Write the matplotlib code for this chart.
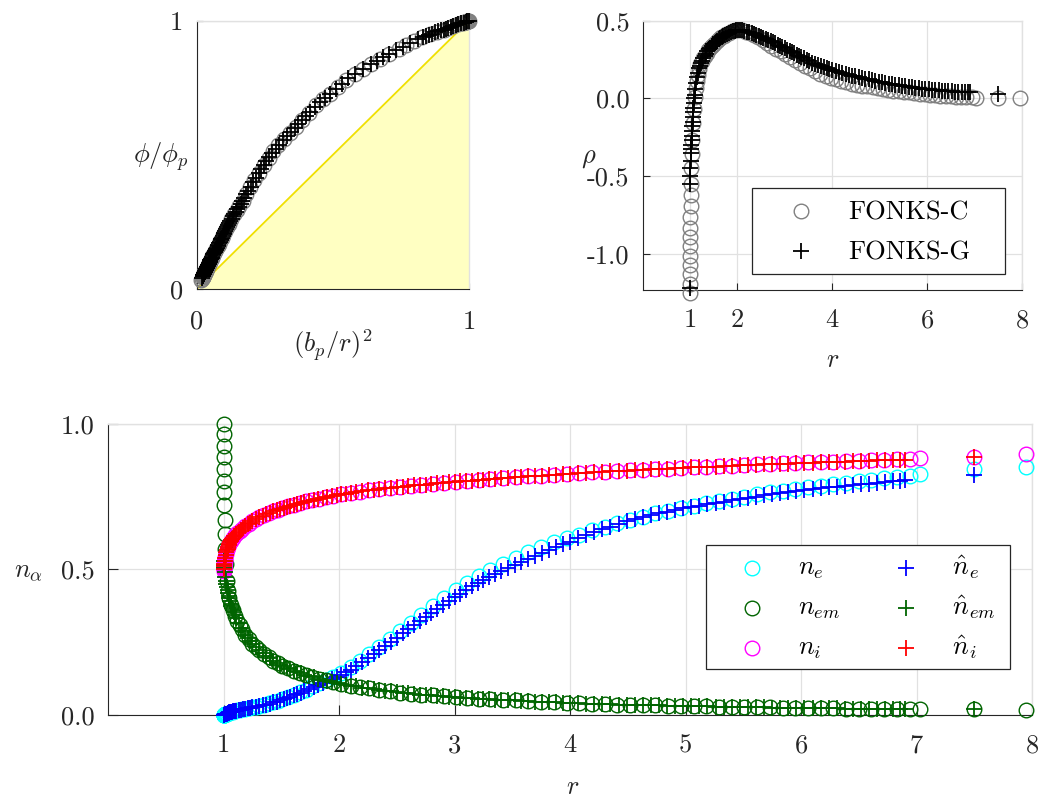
import matplotlib
matplotlib.use("Agg")
import matplotlib.pyplot as plt
from matplotlib.patches import Rectangle
import numpy as np

plt.rcParams["font.family"] = "serif"
plt.rcParams["font.serif"] = ["cmr10"]
plt.rcParams["mathtext.fontset"] = "cm"
plt.rcParams["axes.unicode_minus"] = False

# ---------------------------------------------------------------- data
b_p = 1.0

# FONKS-C (circles)
r_c = [1.000, 1.001, 1.002, 1.003, 1.004, 1.005, 1.006, 1.008, 1.010, 1.012, 1.015, 1.020,
       1.03, 1.04, 1.05, 1.065, 1.08, 1.10, 1.12, 1.14, 1.16, 1.19,
       1.22, 1.25, 1.28, 1.31, 1.35, 1.39, 1.43, 1.47, 1.51, 1.56,
       1.61, 1.66, 1.71, 1.77, 1.83, 1.89, 1.95,
       2.02, 2.10, 2.18, 2.26, 2.35, 2.44, 2.53, 2.62, 2.71, 2.81,
       2.91, 3.01, 3.11, 3.21, 3.31, 3.42, 3.53, 3.64, 3.75, 3.86,
       3.97, 4.08, 4.19, 4.30, 4.41, 4.52, 4.63, 4.74, 4.85, 4.96,
       5.07, 5.18, 5.29, 5.40, 5.51, 5.62, 5.73, 5.84, 5.95, 6.06,
       6.17, 6.28, 6.39, 6.50, 6.61, 6.72, 6.83, 6.94, 7.03, 7.50, 7.95]
phi_c = [1.000, 0.999, 0.999, 0.998, 0.998, 0.997, 0.996, 0.995, 0.994, 0.993, 0.991, 0.988,
         0.980, 0.974, 0.967, 0.958, 0.950, 0.940, 0.924, 0.909, 0.895, 0.876,
         0.857, 0.837, 0.819, 0.802, 0.779, 0.753, 0.728, 0.706, 0.684, 0.655,
         0.628, 0.604, 0.581, 0.557, 0.535, 0.512, 0.488,
         0.462, 0.432, 0.404, 0.379, 0.352, 0.329, 0.310, 0.293, 0.277, 0.259,
         0.243, 0.229, 0.215, 0.202, 0.190, 0.178, 0.168, 0.158, 0.149, 0.141,
         0.134, 0.127, 0.121, 0.115, 0.109, 0.104, 0.099, 0.095, 0.091, 0.087,
         0.083, 0.079, 0.076, 0.073, 0.070, 0.067, 0.065, 0.062, 0.060, 0.058,
         0.056, 0.054, 0.052, 0.050, 0.048, 0.047, 0.045, 0.044, 0.043, 0.038, 0.034]
rho_c = [-1.25, -1.19, -1.13, -1.07, -1.01, -0.95, -0.89, -0.83, -0.76, -0.69, -0.62, -0.55,
         -0.45, -0.36, -0.27, -0.16, -0.07, 0.01, 0.07, 0.115, 0.15, 0.19,
         0.22, 0.24, 0.258, 0.275, 0.293, 0.31, 0.326, 0.34, 0.353, 0.367,
         0.38, 0.392, 0.402, 0.413, 0.423, 0.431, 0.437,
         0.440, 0.437, 0.430, 0.421, 0.408, 0.393, 0.376, 0.358, 0.340, 0.321,
         0.302, 0.284, 0.266, 0.247, 0.229, 0.211, 0.193, 0.175, 0.160, 0.146,
         0.134, 0.123, 0.113, 0.104, 0.096, 0.089, 0.083, 0.077, 0.071, 0.066,
         0.061, 0.056, 0.051, 0.047, 0.043, 0.039, 0.035, 0.031, 0.027, 0.024,
         0.021, 0.018, 0.015, 0.013, 0.011, 0.009, 0.008, 0.007, 0.006, 0.002, 0.001]
ne_c = [0.000, 0.000, 0.000, 0.000, 0.001, 0.001, 0.001, 0.001, 0.002, 0.002, 0.003, 0.004,
        0.005, 0.006, 0.008, 0.010, 0.012, 0.014, 0.016, 0.018, 0.020, 0.022,
        0.024, 0.027, 0.029, 0.032, 0.036, 0.040, 0.044, 0.049, 0.055, 0.062,
        0.070, 0.078, 0.087, 0.098, 0.109, 0.121, 0.132,
        0.145, 0.165, 0.186, 0.208, 0.234, 0.260, 0.289, 0.316, 0.344, 0.374,
        0.403, 0.430, 0.454, 0.476, 0.497, 0.518, 0.538, 0.558, 0.576, 0.593,
        0.606, 0.619, 0.634, 0.647, 0.659, 0.670, 0.681, 0.692, 0.701, 0.710,
        0.719, 0.727, 0.735, 0.742, 0.749, 0.757, 0.764, 0.770, 0.776, 0.782,
        0.787, 0.792, 0.797, 0.802, 0.807, 0.812, 0.817, 0.822, 0.828, 0.843, 0.852]
nem_c = [1.000, 0.965, 0.925, 0.885, 0.845, 0.805, 0.765, 0.720, 0.670, 0.620, 0.570, 0.520,
         0.460, 0.425, 0.400, 0.378, 0.360, 0.340, 0.324, 0.308, 0.294, 0.276,
         0.260, 0.245, 0.234, 0.223, 0.210, 0.198, 0.187, 0.178, 0.169, 0.160,
         0.152, 0.145, 0.138, 0.131, 0.124, 0.119, 0.113,
         0.107, 0.101, 0.096, 0.091, 0.086, 0.081, 0.077, 0.073, 0.070, 0.067,
         0.064, 0.061, 0.059, 0.056, 0.054, 0.052, 0.050, 0.048, 0.046, 0.044,
         0.042, 0.040, 0.039, 0.037, 0.036, 0.035, 0.034, 0.033, 0.032, 0.031,
         0.030, 0.030, 0.029, 0.028, 0.027, 0.026, 0.026, 0.025, 0.024, 0.024,
         0.023, 0.023, 0.022, 0.022, 0.021, 0.021, 0.020, 0.020, 0.020, 0.019, 0.018]
ni_c = [0.495, 0.500, 0.503, 0.507, 0.510, 0.514, 0.518, 0.524, 0.530, 0.536, 0.543, 0.552,
        0.565, 0.577, 0.588, 0.599, 0.608, 0.617, 0.625, 0.633, 0.640, 0.649,
        0.657, 0.665, 0.672, 0.679, 0.686, 0.693, 0.699, 0.705, 0.710, 0.716,
        0.722, 0.728, 0.733, 0.738, 0.743, 0.748, 0.752,
        0.757, 0.762, 0.767, 0.771, 0.776, 0.780, 0.783, 0.787, 0.790, 0.794,
        0.797, 0.801, 0.804, 0.807, 0.810, 0.813, 0.816, 0.819, 0.822, 0.825,
        0.828, 0.830, 0.833, 0.835, 0.838, 0.840, 0.842, 0.844, 0.846, 0.848,
        0.850, 0.852, 0.854, 0.856, 0.858, 0.860, 0.862, 0.864, 0.866, 0.867,
        0.869, 0.870, 0.872, 0.873, 0.875, 0.876, 0.878, 0.879, 0.881, 0.887, 0.895]

# FONKS-G (crosses)
r_g = [1.000, 1.003, 1.006, 1.010, 1.015, 1.020, 1.025, 1.030, 1.035, 1.040,
       1.045, 1.050, 1.056, 1.062, 1.068, 1.075, 1.082, 1.090, 1.098,
       1.11, 1.13, 1.15, 1.17, 1.19, 1.21, 1.23, 1.25, 1.28, 1.31,
       1.34, 1.37, 1.40, 1.43, 1.46, 1.49, 1.52, 1.55, 1.58, 1.61,
       1.64, 1.67, 1.70, 1.74, 1.78, 1.82, 1.86, 1.90, 1.94, 1.98,
       2.02, 2.06, 2.10, 2.15, 2.20, 2.25, 2.30, 2.35, 2.40, 2.45,
       2.50, 2.55, 2.60, 2.65, 2.70, 2.75, 2.80, 2.85, 2.90, 2.95,
       3.00, 3.05, 3.10, 3.15, 3.20, 3.25, 3.30, 3.35, 3.40, 3.46,
       3.52, 3.58, 3.64, 3.70, 3.76, 3.82, 3.88, 3.94, 4.00,
       4.07, 4.14, 4.21, 4.28, 4.35, 4.42, 4.49, 4.56, 4.63, 4.70,
       4.77, 4.84, 4.91, 4.98, 5.05, 5.12, 5.19, 5.26, 5.33, 5.40,
       5.47, 5.54, 5.61, 5.68, 5.75, 5.82, 5.89, 5.96, 6.03, 6.10,
       6.17, 6.24, 6.31, 6.38, 6.45, 6.52, 6.59, 6.66, 6.73, 6.80,
       6.86, 6.90, 7.50]
phi_g = [1.000, 0.998, 0.996, 0.993, 0.990, 0.987, 0.983, 0.980, 0.977, 0.974,
         0.970, 0.967, 0.964, 0.960, 0.956, 0.952, 0.948, 0.943, 0.938,
         0.931, 0.917, 0.902, 0.889, 0.876, 0.863, 0.850, 0.837, 0.819, 0.802,
         0.785, 0.765, 0.746, 0.728, 0.711, 0.695, 0.678, 0.660, 0.643, 0.628,
         0.613, 0.599, 0.585, 0.568, 0.553, 0.538, 0.523, 0.507, 0.492, 0.477,
         0.462, 0.447, 0.432, 0.414, 0.397, 0.381, 0.366, 0.352, 0.339, 0.327,
         0.316, 0.306, 0.296, 0.287, 0.279, 0.270, 0.261, 0.253, 0.245, 0.238,
         0.230, 0.223, 0.216, 0.209, 0.203, 0.197, 0.191, 0.185, 0.180, 0.174,
         0.169, 0.163, 0.158, 0.153, 0.149, 0.144, 0.140, 0.136, 0.132,
         0.128, 0.124, 0.120, 0.116, 0.112, 0.109, 0.106, 0.103, 0.100, 0.097,
         0.094, 0.092, 0.089, 0.087, 0.085, 0.082, 0.080, 0.078, 0.076, 0.074,
         0.072, 0.071, 0.069, 0.067, 0.066, 0.064, 0.063, 0.061, 0.060, 0.059,
         0.057, 0.056, 0.055, 0.054, 0.053, 0.052, 0.051, 0.050, 0.049, 0.048,
         0.047, 0.047, 0.041]
rho_g = [-1.22, -0.55, -0.50, -0.45, -0.40, -0.35, -0.325, -0.30, -0.27, -0.24,
         -0.21, -0.18, -0.15, -0.12, -0.09, -0.06, -0.03, 0.00, 0.025,
         0.06, 0.10, 0.14, 0.165, 0.195, 0.21, 0.227, 0.24, 0.258, 0.275,
         0.289, 0.302, 0.315, 0.326, 0.337, 0.347, 0.356, 0.364, 0.372, 0.380,
         0.387, 0.394, 0.400, 0.408, 0.415, 0.421, 0.427, 0.432, 0.436, 0.439,
         0.440, 0.440, 0.438, 0.435, 0.430, 0.425, 0.420, 0.415, 0.410, 0.404,
         0.397, 0.391, 0.384, 0.377, 0.369, 0.362, 0.354, 0.346, 0.338, 0.330,
         0.322, 0.314, 0.306, 0.298, 0.290, 0.282, 0.274, 0.266, 0.258, 0.249,
         0.240, 0.231, 0.223, 0.216, 0.209, 0.202, 0.197, 0.191, 0.186,
         0.179, 0.172, 0.165, 0.159, 0.153, 0.147, 0.142, 0.137, 0.132, 0.127,
         0.123, 0.118, 0.113, 0.108, 0.104, 0.100, 0.096, 0.092, 0.088, 0.085,
         0.082, 0.079, 0.076, 0.073, 0.070, 0.067, 0.064, 0.062, 0.059, 0.057,
         0.055, 0.053, 0.051, 0.049, 0.048, 0.046, 0.044, 0.043, 0.042, 0.041,
         0.040, 0.039, 0.028]
ne_g = [0.000, 0.001, 0.001, 0.002, 0.003, 0.004, 0.004, 0.005, 0.006, 0.007,
        0.008, 0.009, 0.010, 0.010, 0.011, 0.012, 0.013, 0.013, 0.014,
        0.015, 0.017, 0.018, 0.020, 0.021, 0.023, 0.024, 0.026, 0.028, 0.031,
        0.034, 0.036, 0.039, 0.043, 0.046, 0.050, 0.054, 0.058, 0.062, 0.067,
        0.072, 0.077, 0.082, 0.089, 0.096, 0.102, 0.109, 0.116, 0.123, 0.130,
        0.137, 0.146, 0.155, 0.168, 0.181, 0.195, 0.209, 0.223, 0.237, 0.251,
        0.265, 0.280, 0.294, 0.308, 0.322, 0.336, 0.350, 0.364, 0.378, 0.391,
        0.404, 0.417, 0.429, 0.442, 0.454, 0.464, 0.474, 0.484, 0.494, 0.505,
        0.515, 0.526, 0.536, 0.547, 0.557, 0.567, 0.576, 0.586, 0.595,
        0.606, 0.618, 0.629, 0.638, 0.647, 0.656, 0.665, 0.673, 0.680, 0.686,
        0.692, 0.698, 0.704, 0.709, 0.714, 0.719, 0.723, 0.728, 0.732, 0.737,
        0.741, 0.746, 0.750, 0.754, 0.758, 0.762, 0.766, 0.769, 0.772, 0.775,
        0.779, 0.781, 0.784, 0.786, 0.789, 0.792, 0.794, 0.797, 0.799, 0.802,
        0.805, 0.807, 0.824]
nem_g = [0.530, 0.515, 0.505, 0.490, 0.475, 0.460, 0.450, 0.440, 0.430, 0.420,
         0.410, 0.400, 0.391, 0.382, 0.375, 0.367, 0.360, 0.352, 0.344,
         0.332, 0.316, 0.300, 0.288, 0.276, 0.265, 0.255, 0.245, 0.234, 0.223,
         0.213, 0.204, 0.195, 0.187, 0.180, 0.173, 0.167, 0.162, 0.157, 0.152,
         0.147, 0.143, 0.139, 0.134, 0.129, 0.125, 0.121, 0.117, 0.114, 0.110,
         0.107, 0.104, 0.101, 0.098, 0.094, 0.091, 0.088, 0.086, 0.083, 0.081,
         0.078, 0.076, 0.074, 0.072, 0.070, 0.069, 0.067, 0.065, 0.064, 0.062,
         0.061, 0.060, 0.059, 0.058, 0.056, 0.055, 0.054, 0.053, 0.052, 0.051,
         0.050, 0.048, 0.047, 0.046, 0.045, 0.044, 0.043, 0.042, 0.041,
         0.040, 0.039, 0.038, 0.037, 0.037, 0.036, 0.035, 0.034, 0.034, 0.033,
         0.033, 0.032, 0.032, 0.031, 0.031, 0.030, 0.030, 0.029, 0.028, 0.028,
         0.027, 0.027, 0.026, 0.026, 0.025, 0.025, 0.025, 0.024, 0.024, 0.024,
         0.023, 0.023, 0.023, 0.022, 0.022, 0.022, 0.021, 0.021, 0.021, 0.020,
         0.020, 0.020, 0.019]
ni_g = [0.500, 0.512, 0.520, 0.530, 0.540, 0.550, 0.558, 0.565, 0.571, 0.577,
        0.583, 0.588, 0.593, 0.597, 0.601, 0.605, 0.609, 0.613, 0.616,
        0.621, 0.629, 0.636, 0.643, 0.649, 0.655, 0.660, 0.665, 0.672, 0.679,
        0.684, 0.690, 0.695, 0.699, 0.703, 0.708, 0.711, 0.715, 0.719, 0.722,
        0.726, 0.729, 0.732, 0.736, 0.739, 0.743, 0.746, 0.749, 0.752, 0.755,
        0.757, 0.760, 0.762, 0.765, 0.768, 0.771, 0.773, 0.776, 0.778, 0.780,
        0.782, 0.784, 0.786, 0.788, 0.790, 0.791, 0.793, 0.795, 0.797, 0.799,
        0.801, 0.802, 0.804, 0.805, 0.806, 0.808, 0.809, 0.811, 0.812, 0.814,
        0.816, 0.817, 0.819, 0.820, 0.822, 0.823, 0.825, 0.826, 0.828,
        0.830, 0.831, 0.833, 0.834, 0.836, 0.837, 0.839, 0.840, 0.842, 0.843,
        0.844, 0.846, 0.847, 0.849, 0.850, 0.851, 0.852, 0.853, 0.854, 0.855,
        0.857, 0.858, 0.859, 0.860, 0.861, 0.862, 0.863, 0.864, 0.865, 0.866,
        0.867, 0.868, 0.869, 0.870, 0.871, 0.872, 0.873, 0.874, 0.875, 0.876,
        0.877, 0.877, 0.887]

# reference diagonal phi/phi_p = (b_p/r)^2
diag = [0.0, 1.0]

# ticks
ticks_tl = [0, 1]
ticklabels_tl = ["0", "1"]
xticks_tr = [1, 2, 4, 6, 8]
xticklabels_tr = ["1", "2", "4", "6", "8"]
yticks_tr = [-1.0, -0.5, 0.0, 0.5]
yticklabels_tr = ["-1.0", "-0.5", "0.0", "0.5"]
xticks_b = [1, 2, 3, 4, 5, 6, 7, 8]
xticklabels_b = ["1", "2", "3", "4", "5", "6", "7", "8"]
yticks_b = [0.0, 0.5, 1.0]
yticklabels_b = ["0.0", "0.5", "1.0"]

# ---------------------------------------------------------------- style
INK = "#262626"
GRID = "#e1e1e1"
FS = 19
W, H = 1050, 802

x_c = (b_p / np.asarray(r_c)) ** 2
x_g = (b_p / np.asarray(r_g)) ** 2


def px_box(left, top, right, bottom):
    return [left / W, 1 - bottom / H, (right - left) / W, (bottom - top) / H]


def style_axes(ax, tick_len, xpad, ypad):
    for s in ("left", "bottom"):
        ax.spines[s].set_color(INK)
        ax.spines[s].set_linewidth(0.8)
    for s in ("top", "right"):
        ax.spines[s].set_color(GRID)
        ax.spines[s].set_linewidth(1.0)
    ax.grid(True, color=GRID, lw=0.9)
    ax.set_axisbelow(True)
    ax.tick_params(direction="in", length=tick_len, width=0.8, color=INK,
                   labelcolor=INK, labelsize=FS, top=False, right=False)
    ax.tick_params(axis="x", pad=xpad)
    ax.tick_params(axis="y", pad=ypad)


circ = dict(ls="none", marker="o", mfc="none", ms=10.5, mew=1.0, clip_on=False)
cross = dict(ls="none", marker="+", ms=11.5, mew=1.3, clip_on=False)

fig = plt.figure(figsize=(W / 100, H / 100), dpi=100)

# ---------------------------------------------------------------- top left
ax1 = fig.add_axes(px_box(197, 20.7, 469, 288.7))
ax1.fill_between(diag, [0, 0], diag, color="#ffffc2", lw=0, zorder=1)
ax1.plot(diag, diag, color="#f0e000", lw=1.3, zorder=2)
ax1.plot(x_c, phi_c, color="#808080", zorder=3, **circ)
ax1.plot(x_g, phi_g, color="black", zorder=4, **cross)
ax1.set_xlim(0, 1)
ax1.set_ylim(0, 1)
ax1.set_xticks(ticks_tl, ticklabels_tl)
ax1.set_yticks(ticks_tl, ticklabels_tl)
style_axes(ax1, 4, 15.5, 10)
fig.text(161 / W, 1 - 157 / H, r"$\phi/\phi_p$", fontsize=FS, color=INK,
         ha="center", va="center")
fig.text(333 / W, 1 - 345 / H, r"$(b_p/r)^2$", fontsize=FS, color=INK,
         ha="center", va="center")

# ---------------------------------------------------------------- top right
ax2 = fig.add_axes(px_box(642.5, 20.7, 1022, 290))
ax2.plot(r_c, rho_c, color="#808080", zorder=3, **circ)
ax2.plot(r_g, rho_g, color="black", zorder=4, **cross)
ax2.set_xlim(0, 8)
ax2.set_ylim(-1.2315, 0.5)
ax2.set_xticks(xticks_tr, xticklabels_tr)
ax2.set_yticks(yticks_tr, yticklabels_tr)
style_axes(ax2, 5, 13.5, 9.5)
fig.text(589 / W, 1 - 158 / H, r"$\rho$", fontsize=FS, color=INK,
         ha="center", va="center")
fig.text(833 / W, 1 - 360 / H, r"$r$", fontsize=FS, color=INK,
         ha="center", va="center")

# legend box
ax2.add_patch(Rectangle((0.2877, 0.0594), 0.9552 - 0.2877, 0.3776 - 0.0594,
                        transform=ax2.transAxes, facecolor="white",
                        edgecolor=INK, lw=0.9, zorder=10, clip_on=False))
ax2.plot([0.4169], [0.2915], transform=ax2.transAxes, color="#808080",
         zorder=11, **circ)
ax2.plot([0.4169], [0.1448], transform=ax2.transAxes, color="black",
         zorder=11, **cross)
ax2.text(0.5423, 0.2600, "FONKS-C", transform=ax2.transAxes, fontsize=FS,
         color="black", ha="left", va="baseline", zorder=12)
ax2.text(0.5423, 0.1133, "FONKS-G", transform=ax2.transAxes, fontsize=FS,
         color="black", ha="left", va="baseline", zorder=12)

# ---------------------------------------------------------------- bottom
ax3 = fig.add_axes(px_box(108, 423.7, 1032, 715))
C_NE, C_NEM, C_NI = "#00ffff", "#006400", "#ff00ff"
H_NE, H_NEM, H_NI = "#0000ff", "#006400", "#ff0000"
ax3.plot(r_c, ne_c, color=C_NE, zorder=3, **circ)
ax3.plot(r_c, nem_c, color=C_NEM, zorder=3, **circ)
ax3.plot(r_c, ni_c, color=C_NI, zorder=3, **circ)
ax3.plot(r_g, ne_g, color=H_NE, zorder=4, **cross)
ax3.plot(r_g, nem_g, color=H_NEM, zorder=4, **cross)
ax3.plot(r_g, ni_g, color=H_NI, zorder=4, **cross)
ax3.set_xlim(0, 8)
ax3.set_ylim(0, 1)
ax3.set_xticks(xticks_b, xticklabels_b)
ax3.set_yticks(yticks_b, yticklabels_b)
style_axes(ax3, 7, 13.5, 9.5)
fig.text(28 / W, 1 - 571 / H, r"$n_\alpha$", fontsize=FS, color=INK,
         ha="center", va="center")
fig.text(573 / W, 1 - 787 / H, r"$r$", fontsize=FS, color=INK,
         ha="center", va="center")

# legend box
ax3.add_patch(Rectangle((0.6469, 0.1569), 0.9762 - 0.6469, 0.5836 - 0.1569,
                        transform=ax3.transAxes, facecolor="white",
                        edgecolor=INK, lw=0.9, zorder=10, clip_on=False))
leg_rows = [0.5046, 0.3673, 0.2300]
leg_c = [(C_NE, r"$n_e$"), (C_NEM, r"$n_{em}$"), (C_NI, r"$n_i$")]
leg_g = [(H_NE, r"$\hat{n}_e$"), (H_NEM, r"$\hat{n}_{em}$"), (H_NI, r"$\hat{n}_i$")]
base_shift = 0.024
for y, (cc, lc), (cg, lg) in zip(leg_rows, leg_c, leg_g):
    ax3.plot([0.697], [y], transform=ax3.transAxes, color=cc, zorder=11, **circ)
    ax3.text(0.7468, y - base_shift, lc, transform=ax3.transAxes, fontsize=FS,
             color="black", ha="left", va="baseline", zorder=12)
    ax3.plot([0.8636], [y], transform=ax3.transAxes, color=cg, zorder=11, **cross)
    ax3.text(0.9134, y - base_shift, lg, transform=ax3.transAxes, fontsize=FS,
             color="black", ha="left", va="baseline", zorder=12)

fig.savefig("out.png", dpi=100)
